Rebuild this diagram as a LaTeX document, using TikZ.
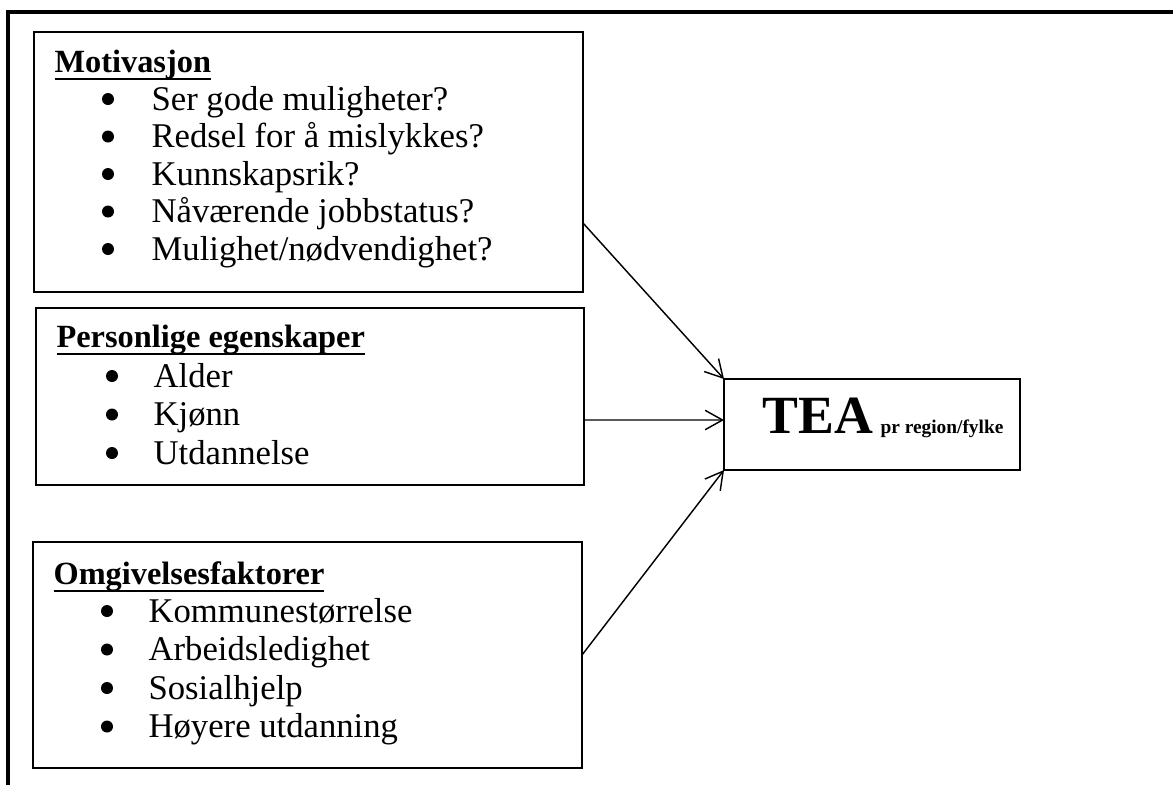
\documentclass[tikz,border=0pt]{standalone}
\usepackage{fontspec}
\setmainfont{Liberation Serif}
\usetikzlibrary{arrows.meta}
\newlength\pxu \setlength\pxu{0.346pt}
\newcommand\ulhead[1]{\setbox0\hbox{\bfseries #1}\rlap{\rule[-2.9pt]{\wd0}{1pt}}\box0}
\tikzset{
  box/.style={draw, line width=0.7pt, inner sep=0pt, outer sep=0pt, anchor=north west},
  txt/.style={anchor=base west, inner sep=0pt, font=\fontsize{12}{14}\selectfont},
  head/.style={anchor=base west, inner sep=0pt, font=\fontsize{11.2}{13}\selectfont},
  arr/.style={line width=0.5pt, -{Straight Barb[length=6pt,width=6.7pt]}},
  dot/.style={fill=black}
}
\begin{document}
\begin{tikzpicture}[x=0.346pt,y=-0.346pt]
\useasboundingbox (0,0) rectangle (1173,784);
\begin{scope}
\clip (0,0) rectangle (1173,784);
\draw[line width=1.7pt] (8,12) rectangle (1200,810);
\end{scope}
% boxes
\node[box, minimum width=549*\pxu, minimum height=260*\pxu] (m) at (34,32) {};
\node[box, minimum width=548*\pxu, minimum height=177*\pxu] (p) at (36,308) {};
\node[box, minimum width=549*\pxu, minimum height=226*\pxu] (o) at (33,542) {};
\node[box, minimum width=296*\pxu, minimum height=91*\pxu] (t) at (724,379) {};
% Motivasjon
\node[head] (mh) at (54,72) {\ulhead{Motivasjon}};
\foreach \y/\s [count=\i] in {110/{Ser gode muligheter?}, 147.5/{Redsel for å mislykkes?}, 185/{Kunnskapsrik?}, 222.5/{Nåværende jobbstatus?}, 260/{Mulighet/nødvendighet?}}{
  \fill[dot] (108,\y-11) circle (6);
  \node[txt] (m\i) at (151,\y) {\s};
}
% Personlige
\node[head] (ph) at (56,347) {\ulhead{Personlige egenskaper}};
\foreach \y/\s [count=\i] in {387/{Alder}, 425.5/{Kjønn}, 464/{Utdannelse}}{
  \fill[dot] (112,\y-11) circle (6);
  \node[txt] (p\i) at (153,\y) {\s};
}
% Omgivelse
\node[head] (oh) at (53,584) {\ulhead{Omgivelsesfaktorer}};
\foreach \y/\s [count=\i] in {622/{Kommunestørrelse}, 660.5/{Arbeidsledighet}, 699/{Sosialhjelp}, 737.5/{Høyere utdanning}}{
  \fill[dot] (107,\y-11) circle (6);
  \node[txt] (o\i) at (148,\y) {\s};
}
% TEA
\node[anchor=base west, inner sep=0pt, font=\fontsize{18.6}{22}\selectfont\bfseries] (tea) at (762,433) {TEA};
\node[anchor=base west, inner sep=0pt, font=\fontsize{6.7}{8}\selectfont\bfseries] (tear) at (880,433) {pr region/fylke};
% arrows
\draw[arr] ([yshift=-61*\pxu]m.east) -- (t.north west);
\draw[arr] ([yshift=-23.5*\pxu]p.east) -- ([yshift=4.5*\pxu]t.west);
\draw[arr] (o.east) -- (t.south west);
\end{tikzpicture}
\end{document}
